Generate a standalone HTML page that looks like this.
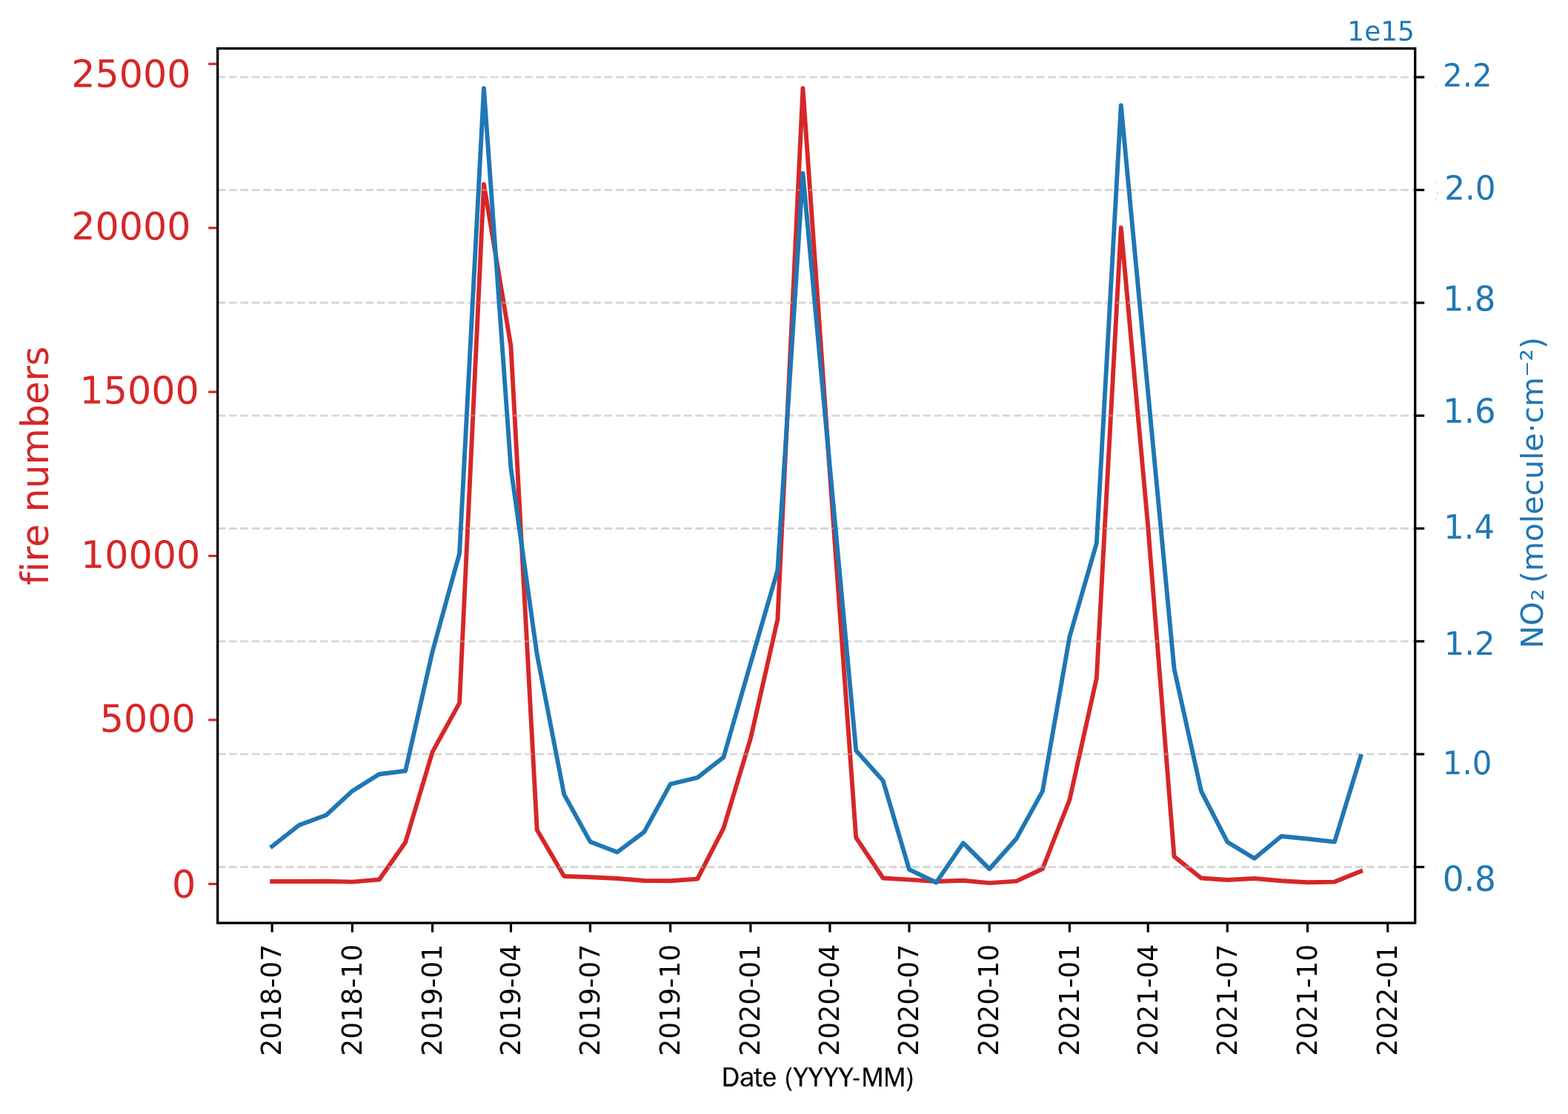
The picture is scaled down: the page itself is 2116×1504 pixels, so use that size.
<!DOCTYPE html>
<html lang="en">
<head>
<meta charset="utf-8">
<title>fire numbers and NO2 time series</title>
<style>
html,body{margin:0;padding:0;background:#fff;}
body{width:2116px;height:1504px;overflow:hidden;}
svg{display:block;}
text{font-family:"DejaVu Sans","Liberation Sans",sans-serif;font-variant-ligatures:none;font-kerning:normal;white-space:pre;}
.xl{font-family:"WenQuanYi Zen Hei","Noto Sans CJK SC","DejaVu Sans","Liberation Sans",sans-serif;}
</style>
</head>
<body>
<svg xmlns="http://www.w3.org/2000/svg" width="2116" height="1504" viewBox="0 0 2116 1504">
<rect x="0" y="0" width="2116" height="1504" fill="#ffffff"/>
<g stroke="#d62728" stroke-width="3.2" fill="none">
<line x1="281.2" y1="1193.4" x2="293.7" y2="1193.4"/>
<line x1="281.2" y1="971.98" x2="293.7" y2="971.98"/>
<line x1="281.2" y1="750.56" x2="293.7" y2="750.56"/>
<line x1="281.2" y1="529.14" x2="293.7" y2="529.14"/>
<line x1="281.2" y1="307.72" x2="293.7" y2="307.72"/>
<line x1="281.2" y1="86.3" x2="293.7" y2="86.3"/>
</g>
<g stroke="#000" stroke-width="3.2" fill="none">
<line x1="367.15" y1="1246.1" x2="367.15" y2="1258.6"/>
<line x1="475.37" y1="1246.1" x2="475.37" y2="1258.6"/>
<line x1="583.58" y1="1246.1" x2="583.58" y2="1258.6"/>
<line x1="689.44" y1="1246.1" x2="689.44" y2="1258.6"/>
<line x1="796.47" y1="1246.1" x2="796.47" y2="1258.6"/>
<line x1="904.68" y1="1246.1" x2="904.68" y2="1258.6"/>
<line x1="1012.9" y1="1246.1" x2="1012.9" y2="1258.6"/>
<line x1="1119.93" y1="1246.1" x2="1119.93" y2="1258.6"/>
<line x1="1226.97" y1="1246.1" x2="1226.97" y2="1258.6"/>
<line x1="1335.18" y1="1246.1" x2="1335.18" y2="1258.6"/>
<line x1="1443.39" y1="1246.1" x2="1443.39" y2="1258.6"/>
<line x1="1549.25" y1="1246.1" x2="1549.25" y2="1258.6"/>
<line x1="1656.28" y1="1246.1" x2="1656.28" y2="1258.6"/>
<line x1="1764.5" y1="1246.1" x2="1764.5" y2="1258.6"/>
<line x1="1872.71" y1="1246.1" x2="1872.71" y2="1258.6"/>
<line x1="1909.7" y1="1170.5" x2="1922.2" y2="1170.5"/>
<line x1="1909.7" y1="1018.16" x2="1922.2" y2="1018.16"/>
<line x1="1909.7" y1="865.83" x2="1922.2" y2="865.83"/>
<line x1="1909.7" y1="713.5" x2="1922.2" y2="713.5"/>
<line x1="1909.7" y1="561.16" x2="1922.2" y2="561.16"/>
<line x1="1909.7" y1="408.82" x2="1922.2" y2="408.82"/>
<line x1="1909.7" y1="256.49" x2="1922.2" y2="256.49"/>
<line x1="1909.7" y1="104.15" x2="1922.2" y2="104.15"/>
</g>
<polyline fill="none" stroke="#d62728" stroke-width="5.9" stroke-linejoin="round" stroke-linecap="square" points="367.15,1190 403.62,1190 440.08,1189.8 475.37,1190.6 511.83,1187.5 547.12,1137.2 583.58,1015.2 620.04,949.1 652.97,248.7 689.44,467.3 724.72,1120.6 761.19,1183 796.47,1184.3 832.94,1186 869.4,1189 904.68,1189.3 941.15,1186.6 976.43,1118.1 1012.9,997 1049.36,836.4 1083.47,119.1 1119.93,640 1155.22,1130.9 1191.68,1185.5 1226.97,1187.6 1263.43,1190 1299.89,1188.8 1335.18,1192.1 1371.64,1189.6 1406.93,1173 1443.39,1079.8 1479.85,915.4 1512.79,307.4 1549.25,711 1584.54,1156.4 1621,1185.5 1656.28,1188 1692.75,1186 1729.21,1189.3 1764.5,1191.3 1800.96,1190.6 1836.25,1176.3"/>
<g stroke="#b0b0b0" stroke-opacity="0.5" stroke-width="2.9" stroke-dasharray="10.72 4.63" fill="none">
<line x1="293.7" y1="1170.5" x2="1909.7" y2="1170.5"/>
<line x1="293.7" y1="1018.16" x2="1909.7" y2="1018.16"/>
<line x1="293.7" y1="865.83" x2="1909.7" y2="865.83"/>
<line x1="293.7" y1="713.5" x2="1909.7" y2="713.5"/>
<line x1="293.7" y1="561.16" x2="1909.7" y2="561.16"/>
<line x1="293.7" y1="408.82" x2="1909.7" y2="408.82"/>
<line x1="293.7" y1="256.49" x2="1909.7" y2="256.49"/>
<line x1="293.7" y1="104.15" x2="1909.7" y2="104.15"/>
</g>
<polyline fill="none" stroke="#1f77b4" stroke-width="5.9" stroke-linejoin="round" stroke-linecap="square" points="367.15,1142.7 403.62,1114 440.08,1100.6 475.37,1067.9 511.83,1045.2 547.12,1040.8 583.58,879.7 620.04,747.4 652.97,119.2 689.44,632.1 724.72,883.8 761.19,1072.4 796.47,1136.4 832.94,1150.5 869.4,1123.1 904.68,1058.6 941.15,1049.9 976.43,1022.4 1012.9,895.5 1049.36,769.9 1083.47,234 1119.93,631 1155.22,1013.3 1191.68,1054.1 1226.97,1173.8 1263.43,1191.5 1299.89,1138.2 1335.18,1173.2 1371.64,1132.2 1406.93,1068.2 1443.39,859.7 1479.85,733.3 1512.79,142.15 1549.25,530 1584.54,902.9 1621,1068.2 1656.28,1136.7 1692.75,1159.1 1729.21,1129 1764.5,1132.5 1800.96,1136.6 1836.25,1021.3"/>
<rect x="293.7" y="65.4" width="1616" height="1180.7" fill="none" stroke="#000" stroke-width="3.3"/>
<g fill="#d62728" font-size="51.15" text-anchor="end">
<text transform="translate(257.56 117.73) rotate(0.05) scale(0.9910 1)">25000</text>
<text transform="translate(257.56 323.5) rotate(0.05) scale(0.9910 1)">20000</text>
<text transform="translate(268.66 545) rotate(0.05) scale(0.9910 1)">15000</text>
<text transform="translate(270.16 767) rotate(0.05) scale(0.9910 1)">10000</text>
<text transform="translate(263.76 988.1) rotate(0.05) scale(0.9910 1)">5000</text>
<text transform="translate(264.16 1211.8) rotate(0.05) scale(0.9910 1)">0</text>
</g>
<g fill="#1f77b4">
<text transform="translate(1947.06 116.8) rotate(0.05) scale(0.9750 1)" font-size="43">2.2</text>
<text transform="translate(1949.24 269.4) rotate(0.05) scale(0.9636 1)" font-size="45.3">2.0</text>
<text transform="translate(1946.96 419.4) rotate(0.05) scale(0.9630 1)" font-size="46.6">1.8</text>
<text transform="translate(1947.27 570.7) rotate(0.05) scale(0.9860 1)" font-size="45.5">1.6</text>
<text transform="translate(1948.24 727.2) rotate(0.05) scale(0.9580 1)" font-size="45.2">1.4</text>
<text transform="translate(1948.74 884) rotate(0.05) scale(0.9970 1)" font-size="43.4">1.2</text>
<text transform="translate(1946.8 1045.15) rotate(0.05) scale(0.9600 1)" font-size="43.6">1.0</text>
<text transform="translate(1946.86 1202.65) rotate(0.05) scale(0.9655 1)" font-size="46.9">0.8</text>
</g>
<g fill="#1f77b4">
<rect x="1937.4" y="113.6" width="1.1" height="4.1" fill-opacity="0.15"/>
<rect x="1937" y="244.9" width="1.1" height="4" fill-opacity="0.25"/>
<rect x="1939" y="258.6" width="1.1" height="4.6" fill-opacity="0.25"/>
<rect x="1937" y="267.2" width="1.1" height="4" fill-opacity="0.25"/>
<rect x="1937" y="1168" width="1.1" height="6.6" fill-opacity="0.12"/>
</g>
<text transform="translate(1818.35 54.8) rotate(0.05) scale(0.9840 1)" font-size="36.5" fill="#1f77b4">1e15</text>
<g fill="#000" font-size="37.2" text-anchor="end">
<text transform="translate(379.45 1274.6) rotate(-90) scale(0.9730 1)">2018-07</text>
<text transform="translate(487.67 1274.6) rotate(-90) scale(0.9730 1)">2018-10</text>
<text transform="translate(595.88 1274.6) rotate(-90) scale(0.9730 1)">2019-01</text>
<text transform="translate(701.74 1274.6) rotate(-90) scale(0.9730 1)">2019-04</text>
<text transform="translate(808.77 1274.6) rotate(-90) scale(0.9730 1)">2019-07</text>
<text transform="translate(916.98 1274.6) rotate(-90) scale(0.9730 1)">2019-10</text>
<text transform="translate(1025.2 1274.6) rotate(-90) scale(0.9730 1)">2020-01</text>
<text transform="translate(1132.23 1274.6) rotate(-90) scale(0.9730 1)">2020-04</text>
<text transform="translate(1239.27 1274.6) rotate(-90) scale(0.9730 1)">2020-07</text>
<text transform="translate(1347.48 1274.6) rotate(-90) scale(0.9730 1)">2020-10</text>
<text transform="translate(1455.69 1274.6) rotate(-90) scale(0.9730 1)">2021-01</text>
<text transform="translate(1561.55 1274.6) rotate(-90) scale(0.9730 1)">2021-04</text>
<text transform="translate(1668.58 1274.6) rotate(-90) scale(0.9730 1)">2021-07</text>
<text transform="translate(1776.8 1274.6) rotate(-90) scale(0.9730 1)">2021-10</text>
<text transform="translate(1885.01 1274.6) rotate(-90) scale(0.9730 1)">2022-01</text>
</g>
<text class="xl" transform="translate(973.7 1466.5) rotate(0.05) scale(0.9830 1)" font-size="37" fill="#000" stroke="#000" stroke-width="0.3">Date (YYYY-MM)</text>
<text transform="translate(64.7 629) rotate(-90) scale(0.9750 1)" font-size="51.9" fill="#d62728" text-anchor="middle">fire numbers</text>
<text transform="translate(2081.9 875.45) rotate(-90) scale(0.9875 1)" font-size="41.5" fill="#1f77b4">NO<tspan dx="1.4" dy="0.9">₂</tspan><tspan dx="-5.5" dy="-0.9"> (molecule·cm⁻²)</tspan></text>
</svg>
</body>
</html>
